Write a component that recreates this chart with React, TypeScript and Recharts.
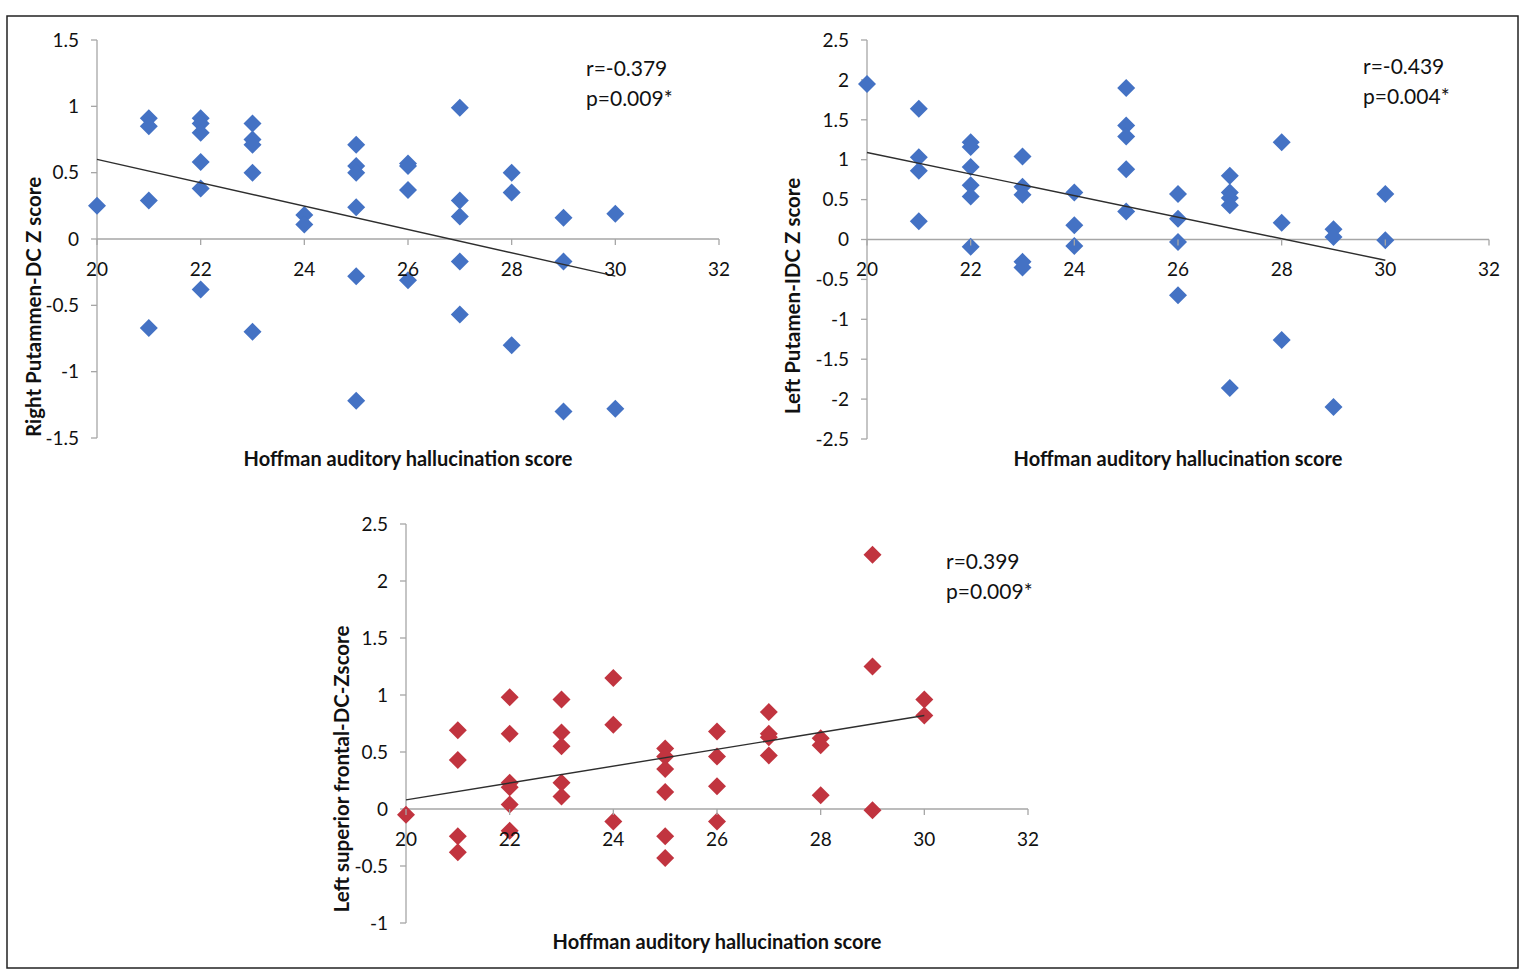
import React from 'react';
import { ScatterChart, Scatter, XAxis, YAxis, ReferenceLine } from 'recharts';

// ---------- data ----------
const X_TICKS = [20, 22, 24, 26, 28, 30, 32];

const RIGHT_PUTAMEN_TICKS = [-1.5, -1, -0.5, 0, 0.5, 1, 1.5];
const LEFT_PUTAMEN_TICKS = [-2.5, -2, -1.5, -1, -0.5, 0, 0.5, 1, 1.5, 2, 2.5];
const LEFT_FRONTAL_TICKS = [-1, -0.5, 0, 0.5, 1, 1.5, 2, 2.5];

const RIGHT_PUTAMEN: [number, number][] = [
  [20, 0.25],
  [21, 0.91], [21, 0.85], [21, 0.29], [21, -0.67],
  [22, 0.91], [22, 0.87], [22, 0.8], [22, 0.58], [22, 0.38], [22, -0.38],
  [23, 0.87], [23, 0.75], [23, 0.71], [23, 0.5], [23, -0.7],
  [24, 0.18], [24, 0.11],
  [25, 0.71], [25, 0.55], [25, 0.5], [25, 0.24], [25, -0.28], [25, -1.22],
  [26, 0.57], [26, 0.55], [26, 0.37], [26, -0.31],
  [27, 0.99], [27, 0.29], [27, 0.17], [27, -0.17], [27, -0.57],
  [28, 0.5], [28, 0.35], [28, -0.8],
  [29, 0.16], [29, -0.17], [29, -1.3],
  [30, 0.19], [30, -1.28],
];
const RIGHT_PUTAMEN_TREND: [number, number][] = [[20, 0.6], [30, -0.28]];

const LEFT_PUTAMEN: [number, number][] = [
  [20, 1.95],
  [21, 1.64], [21, 1.03], [21, 0.86], [21, 0.23],
  [22, 1.22], [22, 1.16], [22, 0.91], [22, 0.68], [22, 0.54], [22, -0.09],
  [23, 1.04], [23, 0.66], [23, 0.56], [23, -0.28], [23, -0.35],
  [24, 0.59], [24, 0.18], [24, -0.08],
  [25, 1.9], [25, 1.43], [25, 1.29], [25, 0.88], [25, 0.35],
  [26, 0.57], [26, 0.26], [26, -0.03], [26, -0.7],
  [27, 0.8], [27, 0.59], [27, 0.52], [27, 0.43], [27, -1.86],
  [28, 1.22], [28, 0.21], [28, -1.26],
  [29, 0.13], [29, 0.03], [29, -2.1],
  [30, 0.57], [30, -0.01],
];
const LEFT_PUTAMEN_TREND: [number, number][] = [[20, 1.09], [30, -0.26]];

const LEFT_FRONTAL: [number, number][] = [
  [20, -0.05],
  [21, 0.69], [21, 0.43], [21, -0.24], [21, -0.38],
  [22, 0.98], [22, 0.66], [22, 0.23], [22, 0.19], [22, 0.04], [22, -0.19],
  [23, 0.96], [23, 0.67], [23, 0.55], [23, 0.23], [23, 0.11],
  [24, 1.15], [24, 0.74], [24, -0.11],
  [25, 0.53], [25, 0.46], [25, 0.35], [25, 0.15], [25, -0.24], [25, -0.43],
  [26, 0.68], [26, 0.46], [26, 0.2], [26, -0.11],
  [27, 0.85], [27, 0.66], [27, 0.63], [27, 0.47],
  [28, 0.62], [28, 0.56], [28, 0.12],
  [29, 2.23], [29, 1.25], [29, -0.01],
  [30, 0.96], [30, 0.82],
];
const LEFT_FRONTAL_TREND: [number, number][] = [[20, 0.08], [30, 0.82]];

const X_TITLE = 'Hoffman auditory hallucination score';

// ---------- styles ----------
const FONT = 'Lato, "Open Sans", sans-serif';
const AXIS_GRAY = '#a6a6a6';
const TEXT = '#111';
const BLUE = '#4472c4';
const RED = '#c1343f';

const toPts = (arr: [number, number][]) => arr.map(([x, y]) => ({ x, y }));

const diamond = (color: string) => (props: any) => {
  const { cx, cy } = props;
  if (cx == null || cy == null) return <g />;
  const r = 9;
  return (
    <polygon
      points={`${cx},${cy - r} ${cx + r},${cy} ${cx},${cy + r} ${cx - r},${cy}`}
      fill={color}
    />
  );
};

type PanelProps = {
  left: number;
  top: number;
  width: number;
  height: number;
  margin: { top: number; right: number; bottom: number; left: number };
  data: [number, number][];
  trend: [number, number][];
  yTicks: number[];
  color: string;
};

const Y_AXIS_W = 60;
const X_AXIS_H = 30;

function Panel({ left, top, width, height, margin, data, trend, yTicks, color }: PanelProps) {
  const yMin = yTicks[0];
  const yMax = yTicks[yTicks.length - 1];
  const plotH = height - margin.top - margin.bottom - X_AXIS_H;
  const zeroY = margin.top + (plotH * yMax) / (yMax - yMin);

  const renderXTick = (props: any) => {
    const { x, payload } = props;
    return (
      <g>
        <line x1={x} y1={zeroY} x2={x} y2={zeroY + 6} stroke={AXIS_GRAY} strokeWidth={1.3} />
        <text
          x={x}
          y={zeroY + 29}
          textAnchor="middle"
          dominantBaseline="central"
          fontSize={19}
          fontFamily={FONT}
          fill={TEXT}
        >
          {payload.value}
        </text>
      </g>
    );
  };

  return (
    <div style={{ position: 'absolute', left, top, width, height }}>
      <ScatterChart width={width} height={height} margin={margin}>
        <XAxis
          type="number"
          dataKey="x"
          domain={[20, 32]}
          ticks={X_TICKS}
          interval={0}
          axisLine={false}
          tickLine={false}
          height={X_AXIS_H}
          tick={renderXTick}
        />
        <YAxis
          type="number"
          dataKey="y"
          domain={[yMin, yMax]}
          ticks={yTicks}
          interval={0}
          width={Y_AXIS_W}
          axisLine={{ stroke: AXIS_GRAY, strokeWidth: 1.3 }}
          tickLine={{ stroke: AXIS_GRAY, strokeWidth: 1.3 }}
          tickSize={6}
          tickMargin={12}
          tick={{ fontSize: 19, fontFamily: FONT, fill: TEXT }}
        />
        <ReferenceLine y={0} stroke={AXIS_GRAY} strokeWidth={1.3} />
        <Scatter data={toPts(data)} shape={diamond(color)} isAnimationActive={false} />
        <Scatter
          data={toPts(trend)}
          shape={() => <g />}
          line={{ stroke: '#2e2e2e', strokeWidth: 1.4 }}
          isAnimationActive={false}
        />
      </ScatterChart>
    </div>
  );
}

export default function App() {
  return (
    <div
      style={{
        position: 'absolute',
        left: 0,
        top: 0,
        width: 1537,
        height: 980,
        background: '#fff',
        fontFamily: FONT,
      }}
    >
      <Panel
        left={0}
        top={0}
        width={760}
        height={490}
        margin={{ top: 40, right: 41, bottom: 52 - X_AXIS_H, left: 97 - Y_AXIS_W }}
        data={RIGHT_PUTAMEN}
        trend={RIGHT_PUTAMEN_TREND}
        yTicks={RIGHT_PUTAMEN_TICKS}
        color={BLUE}
      />
      <Panel
        left={760}
        top={0}
        width={777}
        height={490}
        margin={{ top: 40, right: 48, bottom: 51 - X_AXIS_H, left: 107 - Y_AXIS_W }}
        data={LEFT_PUTAMEN}
        trend={LEFT_PUTAMEN_TREND}
        yTicks={LEFT_PUTAMEN_TICKS}
        color={BLUE}
      />
      <Panel
        left={290}
        top={490}
        width={800}
        height={480}
        margin={{ top: 34, right: 62, bottom: 47 - X_AXIS_H, left: 116 - Y_AXIS_W }}
        data={LEFT_FRONTAL}
        trend={LEFT_FRONTAL_TREND}
        yTicks={LEFT_FRONTAL_TICKS}
        color={RED}
      />
      <svg
        width={1537}
        height={980}
        style={{ position: 'absolute', left: 0, top: 0, pointerEvents: 'none' }}
      >
        <rect x={7} y={16} width={1511} height={952} fill="none" stroke="#222" strokeWidth={1.5} />
        <g fontFamily={FONT} fill={TEXT}>
          {/* panel 1 */}
          <text x={33} y={307} transform="rotate(-90 33 307)" textAnchor="middle" dominantBaseline="central" fontSize={20.5} fontWeight={700}>
            Right Putammen-DC Z score
          </text>
          <text x={408} y={458} textAnchor="middle" dominantBaseline="central" fontSize={20} fontWeight={700}>
            {X_TITLE}
          </text>
          <text x={586} y={67} dominantBaseline="central" fontSize={21}>r=-0.379</text>
          <text x={586} y={97} dominantBaseline="central" fontSize={21}>p=0.009*</text>
          {/* panel 2 */}
          <text x={792} y={296} transform="rotate(-90 792 296)" textAnchor="middle" dominantBaseline="central" fontSize={20.5} fontWeight={700}>
            Left Putamen-IDC Z score
          </text>
          <text x={1178} y={458} textAnchor="middle" dominantBaseline="central" fontSize={20} fontWeight={700}>
            {X_TITLE}
          </text>
          <text x={1363} y={65} dominantBaseline="central" fontSize={21}>r=-0.439</text>
          <text x={1363} y={95} dominantBaseline="central" fontSize={21}>p=0.004*</text>
          {/* panel 3 */}
          <text x={341} y={769} transform="rotate(-90 341 769)" textAnchor="middle" dominantBaseline="central" fontSize={20.5} fontWeight={700}>
            Left superior frontal-DC-Zscore
          </text>
          <text x={717} y={941} textAnchor="middle" dominantBaseline="central" fontSize={20} fontWeight={700}>
            {X_TITLE}
          </text>
          <text x={946} y={560} dominantBaseline="central" fontSize={21}>r=0.399</text>
          <text x={946} y={590} dominantBaseline="central" fontSize={21}>p=0.009*</text>
        </g>
      </svg>
    </div>
  );
}
